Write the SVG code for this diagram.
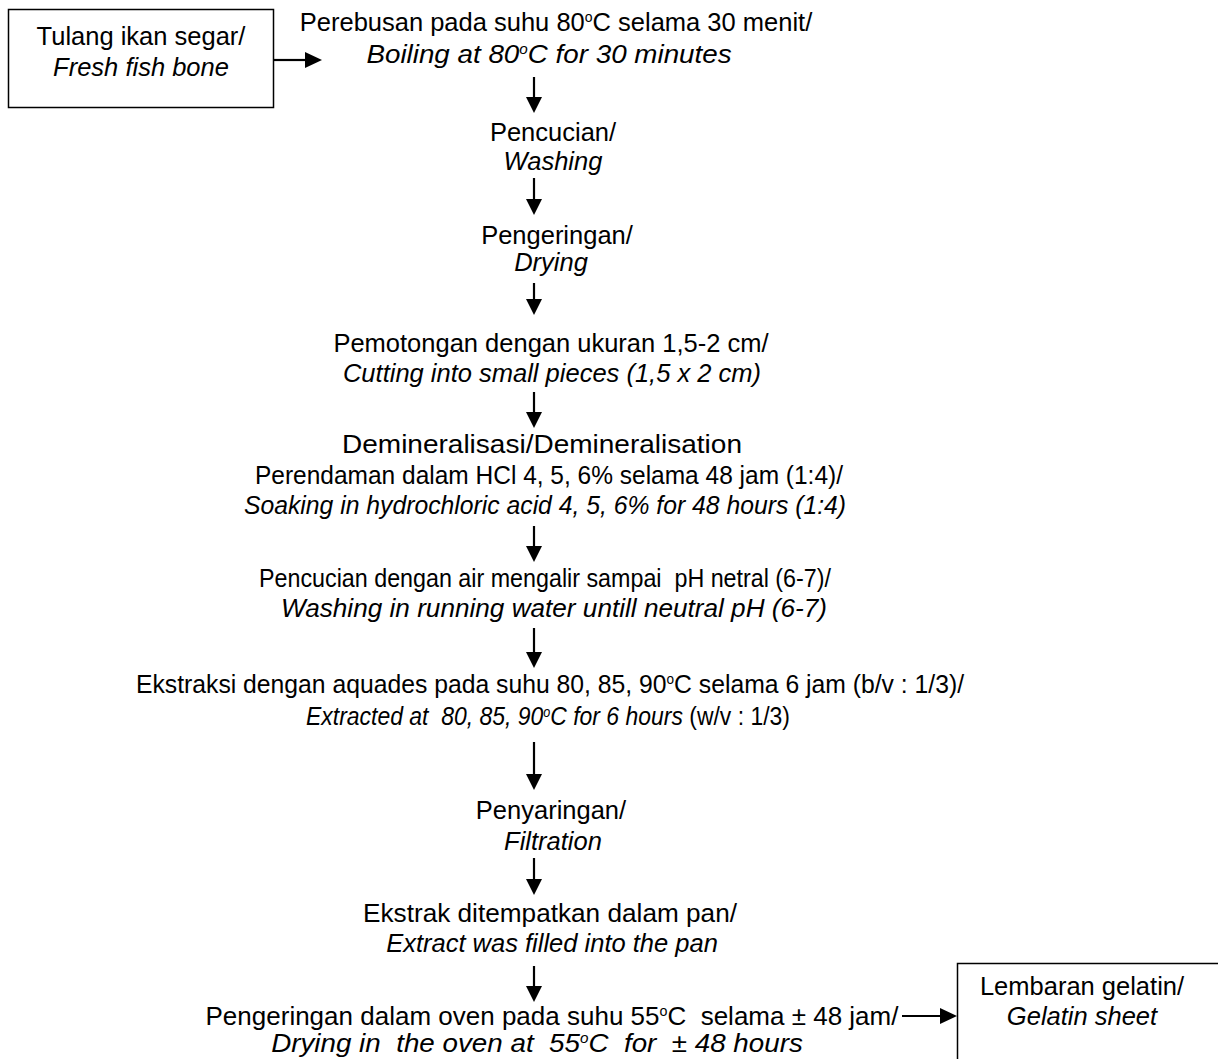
<svg xmlns="http://www.w3.org/2000/svg" width="1218" height="1059" viewBox="0 0 1218 1059" xml:space="preserve">
<defs>
<style>
text{font-family:"Liberation Sans",Arial,sans-serif;font-size:25.5px;fill:#000;text-anchor:middle;white-space:pre}
.i{font-style:italic}
.s{font-size:14px}
.box{fill:#fff;stroke:#000;stroke-width:1.5}
.ln{stroke:#000;stroke-width:2.2;fill:none}
</style>
</defs>
<rect width="1218" height="1059" fill="#fff"/>
<g id="connectors">
<path class="ln" d="M274,60 H306"/><path d="M305,52 L322,60 L305,68 Z"/>
<path class="ln" d="M534,77 V99"/><path d="M526,97 L534,113 L542,97 Z"/>
<path class="ln" d="M534,178 V201"/><path d="M526,199 L534,215 L542,199 Z"/>
<path class="ln" d="M534,283 V301"/><path d="M526,299 L534,315 L542,299 Z"/>
<path class="ln" d="M534,392 V414"/><path d="M526,412 L534,428 L542,412 Z"/>
<path class="ln" d="M534,526 V548"/><path d="M526,546 L534,562 L542,546 Z"/>
<path class="ln" d="M534,628 V654"/><path d="M526,652 L534,668 L542,652 Z"/>
<path class="ln" d="M534,742 V776"/><path d="M526,774 L534,790 L542,774 Z"/>
<path class="ln" d="M534,858 V881"/><path d="M526,879 L534,895 L542,879 Z"/>
<path class="ln" d="M534,966 V988"/><path d="M526,986 L534,1002 L542,986 Z"/>
<path class="ln" d="M902,1016 H942"/><path d="M940,1008 L957,1016 L940,1024 Z"/>
</g>
<g id="n0">
<rect class="box" x="8.5" y="9.5" width="265" height="98"/>
<text x="141" y="45">Tulang ikan segar/</text>
<text class="i" x="141" y="76">Fresh fish bone</text>
</g>
<g id="n1">
<text x="556" y="31">Perebusan pada suhu 80<tspan class="s" dy="-9">o</tspan><tspan dy="9">C selama 30 menit/</tspan></text>
<text class="i" transform="translate(549,63) scale(1.09,1)">Boiling at 80<tspan class="s" dy="-9">o</tspan><tspan dy="9">C for 30 minutes</tspan></text>
</g>
<g id="n2">
<text x="553" y="141">Pencucian/</text>
<text class="i" x="553" y="170">Washing</text>
</g>
<g id="n3">
<text x="557" y="244">Pengeringan/</text>
<text class="i" x="551" y="271">Drying</text>
</g>
<g id="n4">
<text x="551" y="352">Pemotongan dengan ukuran 1,5-2 cm/</text>
<text class="i" x="552" y="382">Cutting into small pieces (1,5 x 2 cm)</text>
</g>
<g id="n5">
<text x="542" y="453" textLength="400" lengthAdjust="spacingAndGlyphs">Demineralisasi/Demineralisation</text>
<text x="549" y="484" textLength="588" lengthAdjust="spacingAndGlyphs">Perendaman dalam HCl 4, 5, 6% selama 48 jam (1:4)/</text>
<text class="i" x="545" y="514" textLength="602" lengthAdjust="spacingAndGlyphs">Soaking in hydrochloric acid 4, 5, 6% for 48 hours (1:4)</text>
</g>
<g id="n6">
<text x="545" y="587" textLength="572" lengthAdjust="spacingAndGlyphs">Pencucian dengan air mengalir sampai  pH netral (6-7)/</text>
<text class="i" x="554" y="617" textLength="546" lengthAdjust="spacingAndGlyphs">Washing in running water untill neutral pH (6-7)</text>
</g>
<g id="n7">
<text transform="translate(550,693) scale(0.97,1)">Ekstraksi dengan aquades pada suhu 80, 85, 90<tspan class="s" dy="-9">o</tspan><tspan dy="9">C selama 6 jam (b/v : 1/3)/</tspan></text>
<text transform="translate(548,725) scale(0.9,1)"><tspan class="i">Extracted at  80, 85, 90</tspan><tspan class="i s" dy="-8">o</tspan><tspan class="i" dy="8">C for 6 hours</tspan><tspan> (w/v : 1/3)</tspan></text>
</g>
<g id="n8">
<text x="551" y="819">Penyaringan/</text>
<text class="i" x="553" y="850">Filtration</text>
</g>
<g id="n9">
<text x="550" y="922" textLength="374" lengthAdjust="spacingAndGlyphs">Ekstrak ditempatkan dalam pan/</text>
<text class="i" x="552" y="952">Extract was filled into the pan</text>
</g>
<g id="n10">
<text transform="translate(552,1025) scale(1.02,1)">Pengeringan dalam oven pada suhu 55<tspan class="s" dy="-9">o</tspan><tspan dy="9">C  selama ± 48 jam/</tspan></text>
<text class="i" transform="translate(537,1052) scale(1.09,1)">Drying in  the oven at  55<tspan class="s" dy="-9">o</tspan><tspan dy="9">C  for  ± 48 hours</tspan></text>
</g>
<g id="n11">
<rect class="box" x="957.5" y="963.5" width="270" height="120"/>
<text x="1082" y="995">Lembaran gelatin/</text>
<text class="i" x="1082" y="1025">Gelatin sheet</text>
</g>
</svg>
